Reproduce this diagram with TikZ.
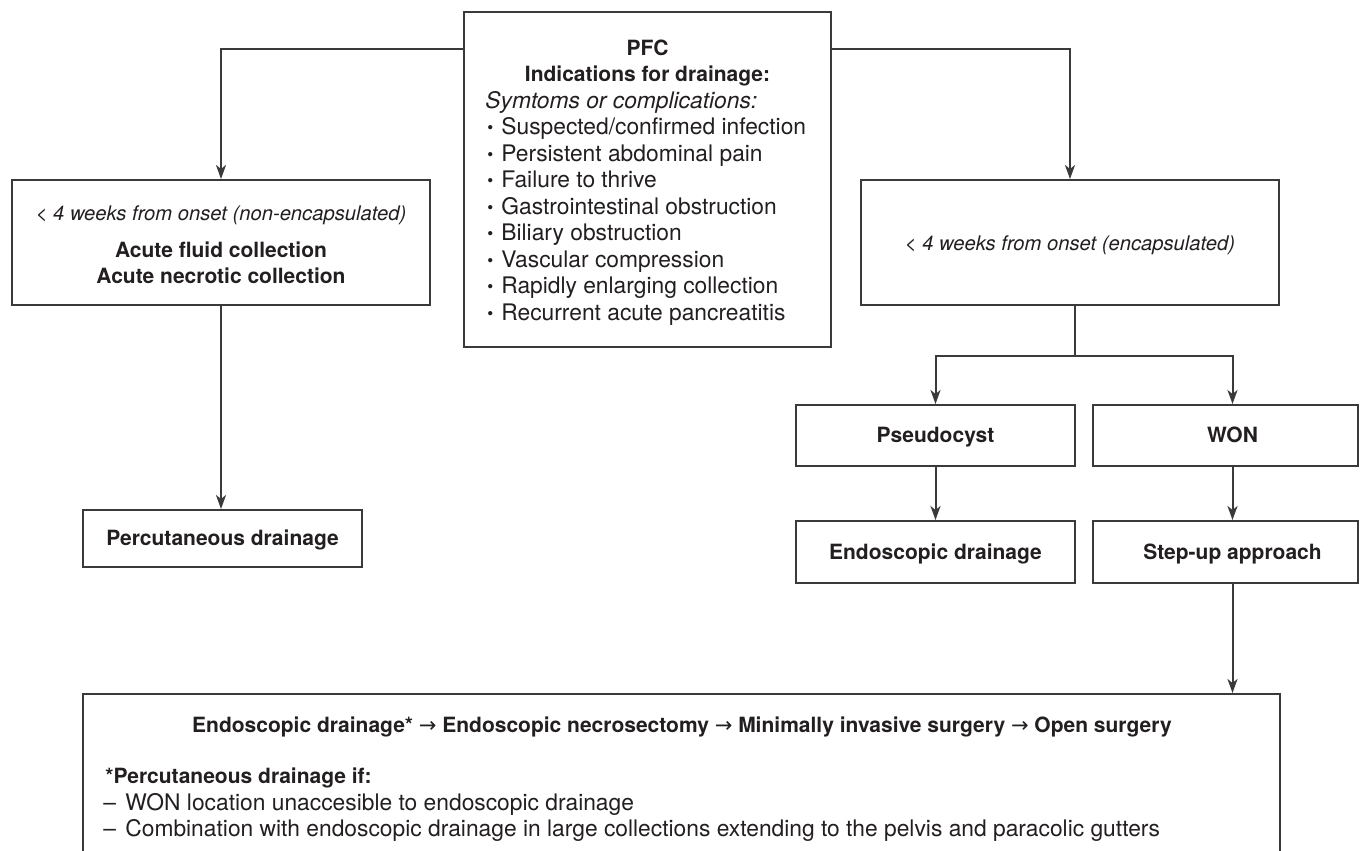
\documentclass[tikz,border=0pt]{standalone}
\usepackage{fontspec}
\setmainfont{TeX Gyre Heros}
\newfontfamily\arrfont{DejaVu Sans}
\usetikzlibrary{arrows.meta,calc}
\definecolor{ink}{HTML}{231F20}
\definecolor{linec}{HTML}{3A3A3A}
\newcommand{\rarr}{{\arrfont\mdseries\fontsize{10.5}{12}\selectfont →}}
\newcommand{\bul}{\makebox[7pt][l]{\raisebox{0.6pt}{\fontsize{8.5}{9}\selectfont\textbullet}}}
\begin{document}
\begin{tikzpicture}[x=0.5pt,y=-0.5pt,
  box/.style={draw=linec,line width=1pt,rectangle,inner sep=0pt},
  arr/.style={draw=linec,line width=1pt,-{Stealth[length=7pt,width=5pt,inset=2pt]}},
  ln/.style={draw=linec,line width=1pt},
  reg/.style={inner sep=0pt,text=ink,font=\fontsize{11.4}{13.25}\selectfont},
  bld/.style={inner sep=0pt,text=ink,font=\fontsize{10.5}{13.25}\selectfont\bfseries},
  itl/.style={inner sep=0pt,text=ink,font=\fontsize{11.4}{13.25}\selectfont\itshape},
  itls/.style={inner sep=0pt,text=ink,font=\fontsize{10.1}{12}\selectfont\itshape},
]
\useasboundingbox (0,0) rectangle (1362,851);
\clip (0,0) rectangle (1362,851);
\fill[white] (0,0) rectangle (1362,851);

% boxes
\node[box,minimum width=183.5pt,minimum height=167.5pt] (pfc) at (647.5,179.5) {};
\node[box,minimum width=209pt,minimum height=62.5pt] (lbox) at (221,242.5) {};
\node[box,minimum width=209pt,minimum height=62.5pt] (rbox) at (1070,242.5) {};
\node[box,minimum width=139.5pt,minimum height=28.5pt] (perc) at (222.5,538.5) {};
\node[box,minimum width=139.5pt,minimum height=30.5pt] (pseudo) at (935.5,435.5) {};
\node[box,minimum width=132.5pt,minimum height=30.5pt] (won) at (1225.5,435.5) {};
\node[box,minimum width=139.5pt,minimum height=31pt] (endo) at (935.5,552) {};
\node[box,minimum width=132.5pt,minimum height=31pt] (stepup) at (1225.5,552) {};
\node[box,minimum width=598.5pt,minimum height=90pt] (bot) at (681.5,784) {};

% PFC text
\node[bld,anchor=mid] (t1) at (647.5,50) {PFC};
\node[bld,anchor=mid] (t2) at (647.5,76.5) {Indications for drainage:};
\node[itl,anchor=mid west] (t3) at (485,103) {Symtoms or complications:};
\node[reg,anchor=mid west] (b1) at (487,129.5) {\bul Suspected/confirmed infection};
\node[reg,anchor=mid west] (b2) at (487,156) {\bul Persistent abdominal pain};
\node[reg,anchor=mid west] (b3) at (487,182.5) {\bul Failure to thrive};
\node[reg,anchor=mid west] (b4) at (487,209) {\bul Gastrointestinal obstruction};
\node[reg,anchor=mid west] (b5) at (487,235.5) {\bul Biliary obstruction};
\node[reg,anchor=mid west] (b6) at (487,262) {\bul Vascular compression};
\node[reg,anchor=mid west] (b7) at (487,288.5) {\bul Rapidly enlarging collection};
\node[reg,anchor=mid west] (b8) at (487,315) {\bul Recurrent acute pancreatitis};

% left / right boxes text
\node[itls,anchor=mid] (l1) at (221,215) {< 4 weeks from onset (non-encapsulated)};
\node[bld,anchor=mid] (l2) at (221,252) {Acute fluid collection};
\node[bld,anchor=mid] (l3) at (221,278) {Acute necrotic collection};
\node[itls,anchor=mid] (r1) at (1070,245) {< 4 weeks from onset (encapsulated)};

\node[bld,anchor=mid] (perct) at (222.5,540) {Percutaneous drainage};
\node[bld,anchor=mid] (pseudot) at (935.5,437) {Pseudocyst};
\node[bld,anchor=mid] (wont) at (1232.5,437) {WON};
\node[bld,anchor=mid] (endot) at (935.5,554) {Endoscopic drainage};
\node[bld,anchor=mid] (stepupt) at (1232.5,554) {Step-up approach};

% bottom box text
\node[bld,anchor=mid] (bt) at (682,727) {Endoscopic drainage* \rarr{} Endoscopic necrosectomy \rarr{} Minimally invasive surgery \rarr{} Open surgery};
\node[bld,anchor=mid west] (bp) at (105,778) {*Percutaneous drainage if:};
\node[reg,anchor=mid west] (bd1) at (103,805) {\makebox[11pt][l]{–}WON location unaccesible to endoscopic drainage};
\node[reg,anchor=mid west] (bd2) at (103,831) {\makebox[11pt][l]{–}Combination with endoscopic drainage in large collections extending to the pelvis and paracolic gutters};

% connectors
\draw[arr] ([yshift=-19pt]pfc.north west) -| (lbox.north);
\draw[arr] ([yshift=-19pt]pfc.north east) -| (rbox.north);
\draw[arr] (lbox.south) -- (lbox.south |- perc.north);
\coordinate (br) at (1075,356);
\draw[ln] (br |- rbox.south) -- (br);
\draw[arr] (br) -| (pseudo.north);
\draw[arr] (br) -| (wont |- won.north);
\draw[arr] (pseudo.south) -- (endo.north);
\draw[arr] (wont |- won.south) -- (wont |- stepup.north);
\draw[arr] (wont |- stepup.south) -- (wont |- bot.north);
\end{tikzpicture}
\end{document}
